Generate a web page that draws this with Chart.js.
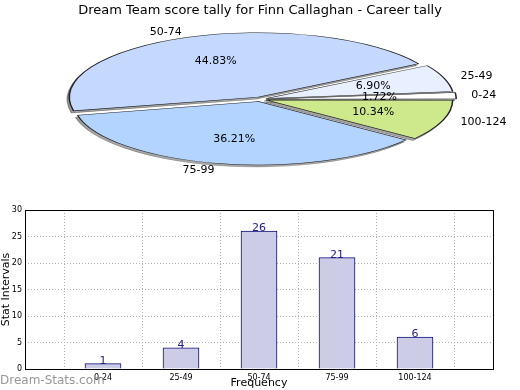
<!DOCTYPE html>
<html>
<head>
<meta charset="utf-8">
<script src="https://cdn.jsdelivr.net/npm/chart.js@4"></script>
<style>
  body { margin: 0; background: #fff; }
  #wrap { position: relative; width: 520px; height: 390px; overflow: hidden; }
  #pieChart { position: absolute; left: 0; top: 0; }
  #barChart { position: absolute; left: 0; top: 195px; }
</style>
</head>
<body>
<div id="wrap">
  <canvas id="pieChart" width="520" height="195"></canvas>
  <canvas id="barChart" width="520" height="195"></canvas>
</div>
<script>
// data
const categories = ["0-24", "25-49", "50-74", "75-99", "100-124"];
const counts = [1, 4, 26, 21, 6];
const yTicks = [0, 5, 10, 15, 20, 25, 30];

// styles
const pieColors = ["#ffffff", "#e8f0ff", "#c5d9ff", "#b3d4ff", "#cde98b"];
const RX = 184, RY = 63;   // ellipse radii of the tilted pie
const EXPLODE = 0.05;

Chart.defaults.font.family = "'DejaVu Sans', sans-serif";
Chart.defaults.color = "#000";

const total = counts.reduce((a, b) => a + b, 0);

function squash(ctx, arc) {
  ctx.translate(arc.x, arc.y);
  ctx.scale(RX / arc.outerRadius, -RY / arc.outerRadius);
  ctx.translate(-arc.x, -arc.y);
}

// draws the pie as a flattened ellipse with a shadow under it
const ellipsePlugin = {
  id: "ellipse",
  beforeDatasetsDraw(chart) {
    const ctx = chart.ctx;
    const arcs = chart.getDatasetMeta(0).data;
    ctx.save();
    ctx.translate(-2, 2);
    squash(ctx, arcs[0]);
    ctx.filter = "brightness(0)";
    ctx.globalAlpha = 0.35;
    arcs.forEach(a => a.draw(ctx));
    ctx.restore();
    ctx.save();
    squash(ctx, arcs[0]);
  },
  afterDatasetsDraw(chart) {
    const ctx = chart.ctx;
    ctx.restore();
    const arcs = chart.getDatasetMeta(0).data;
    ctx.save();
    ctx.font = "11px 'DejaVu Sans'";
    ctx.fillStyle = "#000";
    ctx.textBaseline = "middle";
    arcs.forEach((a, i) => {
      const mid = (a.startAngle + a.endAngle) / 2;
      const ex = Math.cos(mid), ey = -Math.sin(mid);
      // percent inside
      ctx.textAlign = "center";
      ctx.fillText((counts[i] / total * 100).toFixed(2) + "%",
        a.x + ex * RX * (0.6 + EXPLODE), a.y + ey * RY * (0.6 + EXPLODE));
      // category outside
      ctx.textAlign = ex < 0 ? "right" : "left";
      ctx.fillText(categories[i],
        a.x + ex * RX * (1.1 + EXPLODE), a.y + ey * RY * (1.1 + EXPLODE));
    });
    ctx.restore();
  }
};

new Chart(document.getElementById("pieChart"), {
  type: "pie",
  data: {
    labels: categories,
    datasets: [{
      data: counts,
      backgroundColor: pieColors,
      borderColor: "#222",
      borderWidth: 0.6,
      offset: 10,
      hoverOffset: 0
    }]
  },
  options: {
    responsive: false,
    animation: false,
    events: [],
    rotation: 90,
    layout: { padding: { top: 0, bottom: 19 } },
    plugins: {
      legend: { display: false },
      tooltip: { enabled: false },
      title: {
        display: true,
        text: "Dream Team score tally for Finn Callaghan - Career tally",
        font: { size: 13, weight: "normal" },
        padding: { top: 3, bottom: 4 }
      }
    }
  },
  plugins: [ellipsePlugin]
});

// bar chart, with an empty slot at each end like the original axes
const barLabels = [""].concat(categories, [""]);
const barData = [null].concat(counts, [null]);

const barDecor = {
  id: "barDecor",
  afterDraw(chart) {
    const ctx = chart.ctx;
    const a = chart.chartArea;
    ctx.save();
    ctx.strokeStyle = "#000";
    ctx.lineWidth = 1;
    ctx.strokeRect(Math.round(a.left) + 0.5, Math.round(a.top) + 0.5,
      Math.round(a.right - a.left), Math.round(a.bottom - a.top));
    // values over bars
    ctx.font = "11px 'DejaVu Sans'";
    ctx.fillStyle = "#22228a";
    ctx.textAlign = "center";
    ctx.textBaseline = "alphabetic";
    chart.getDatasetMeta(0).data.forEach((bar, i) => {
      if (barData[i] == null) return;
      ctx.fillText(String(barData[i]), bar.x, bar.y);
    });
    // watermark
    ctx.font = "12px 'DejaVu Sans'";
    ctx.fillStyle = "rgba(140,140,140,0.9)";
    ctx.textAlign = "left";
    ctx.textBaseline = "middle";
    ctx.fillText("Dream-Stats.com", 0, 186);
    ctx.restore();
  }
};

new Chart(document.getElementById("barChart"), {
  type: "bar",
  data: {
    labels: barLabels,
    datasets: [{
      data: barData,
      backgroundColor: "#cccce6",
      borderColor: "#10107a",
      borderWidth: 1,
      barThickness: 36
    }]
  },
  options: {
    responsive: false,
    animation: false,
    events: [],
    layout: { padding: { top: 15, right: 27, left: 0, bottom: 0 } },
    plugins: { legend: { display: false }, tooltip: { enabled: false } },
    scales: {
      x: {
        z: 1,
        offset: false,
        grid: { color: "#b0b0b0", drawTicks: false },
        border: { display: false, dash: [1, 2] },
        ticks: { font: { size: 8 }, padding: 4, autoSkip: false, maxRotation: 0 },
        title: { display: true, text: "Frequency", font: { size: 11 }, padding: 0 },
        afterFit(scale) { scale.height = 21; }
      },
      y: {
        z: 1,
        min: yTicks[0],
        max: yTicks[yTicks.length - 1],
        afterBuildTicks(scale) { scale.ticks = yTicks.map(v => ({ value: v })); },
        grid: { color: "#b0b0b0", drawTicks: false },
        border: { display: false, dash: [1, 2] },
        ticks: { font: { size: 8 }, padding: 3 },
        title: { display: true, text: "Stat Intervals", font: { size: 11 }, padding: 0 },
        afterFit(scale) { scale.width = 25; }
      }
    }
  },
  plugins: [barDecor]
});
</script>
</body>
</html>
